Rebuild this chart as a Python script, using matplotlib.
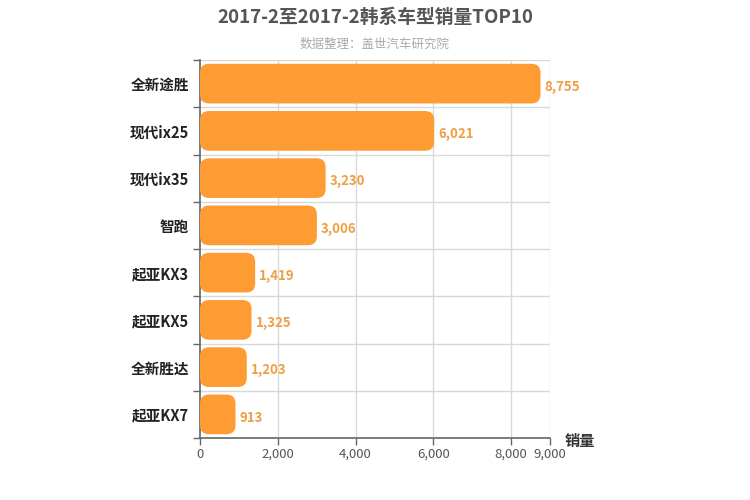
import matplotlib
matplotlib.use('Agg')
import matplotlib.pyplot as plt
from matplotlib.patches import FancyBboxPatch

plt.rcParams['font.family'] = ['Noto Sans CJK SC', 'DejaVu Sans']

# data, top to bottom
models = ['全新途胜', '现代ix25', '现代ix35', '智跑', '起亚KX3', '起亚KX5', '全新胜达', '起亚KX7']
sales = [8755, 6021, 3230, 3006, 1419, 1325, 1203, 913]
xticks = [0, 2000, 4000, 6000, 8000, 9000]

bar_color = '#FF9B33'
label_color = '#EE9F45'

fig = plt.figure(figsize=(7.5, 5), dpi=100)
ax = fig.add_axes([200/750, 1-438/500, 350/750, 378/500])

n = len(models)
ax.set_xlim(0, 9000)
ax.set_ylim(n, 0)

# px -> data scale for rounded corners
xpp = 9000 / 350.0
ypp = n / 378.0
h = 0.84
for i, v in enumerate(sales):
    y0 = i + (1 - h) / 2
    p = FancyBboxPatch((0, y0), v, h,
                       boxstyle='round,pad=0,rounding_size=%f' % (9 * xpp),
                       mutation_aspect=ypp / xpp,
                       fc=bar_color, ec='none', zorder=3)
    ax.add_patch(p)
    ax.text(v + 4 * xpp, i + 0.57, format(v, ','), va='center', ha='left',
            color=label_color, fontsize=9.5, fontweight='bold', zorder=4)

# grid
for x in xticks[1:]:
    ax.axvline(x, color='#d9d9d9', lw=1, zorder=1)
for k in range(n + 1):
    ax.axhline(k, color='#d9d9d9', lw=1, zorder=1)

ax.set_yticks([i + 0.5 for i in range(n)])
ax.set_yticklabels(models, fontsize=10.5, color='#222222', fontweight='bold')
ax.set_yticks(range(n + 1), minor=True)
ax.tick_params(axis='y', which='major', length=0, pad=8)
ax.tick_params(axis='y', which='minor', length=5, color='#666666', width=1)

ax.set_xticks(xticks)
ax.set_xticklabels([format(x, ',') for x in xticks], fontsize=9.5, color='#555555')
ax.tick_params(axis='x', length=5, color='#666666', width=1, pad=2)

for s in ['top', 'right']:
    ax.spines[s].set_visible(False)
ax.spines['left'].set_color('#666666')
ax.spines['bottom'].set_color('#666666')
ax.spines['left'].set_linewidth(1.2)
ax.spines['bottom'].set_linewidth(1.2)

fig.text(565/750, 1-441/500, '销量', fontsize=11, color='#333333', ha='left', va='center',
         fontweight='bold')

fig.text(0.5, 1-17/500, '2017-2至2017-2韩系车型销量TOP10', ha='center', va='center',
         fontsize=13.5, fontweight='bold', color='#555555')
fig.text(0.5, 1-44/500, '数据整理：盖世汽车研究院', ha='center', va='center',
         fontsize=9, color='#aaaaaa')

fig.savefig('out.png', dpi=100)
